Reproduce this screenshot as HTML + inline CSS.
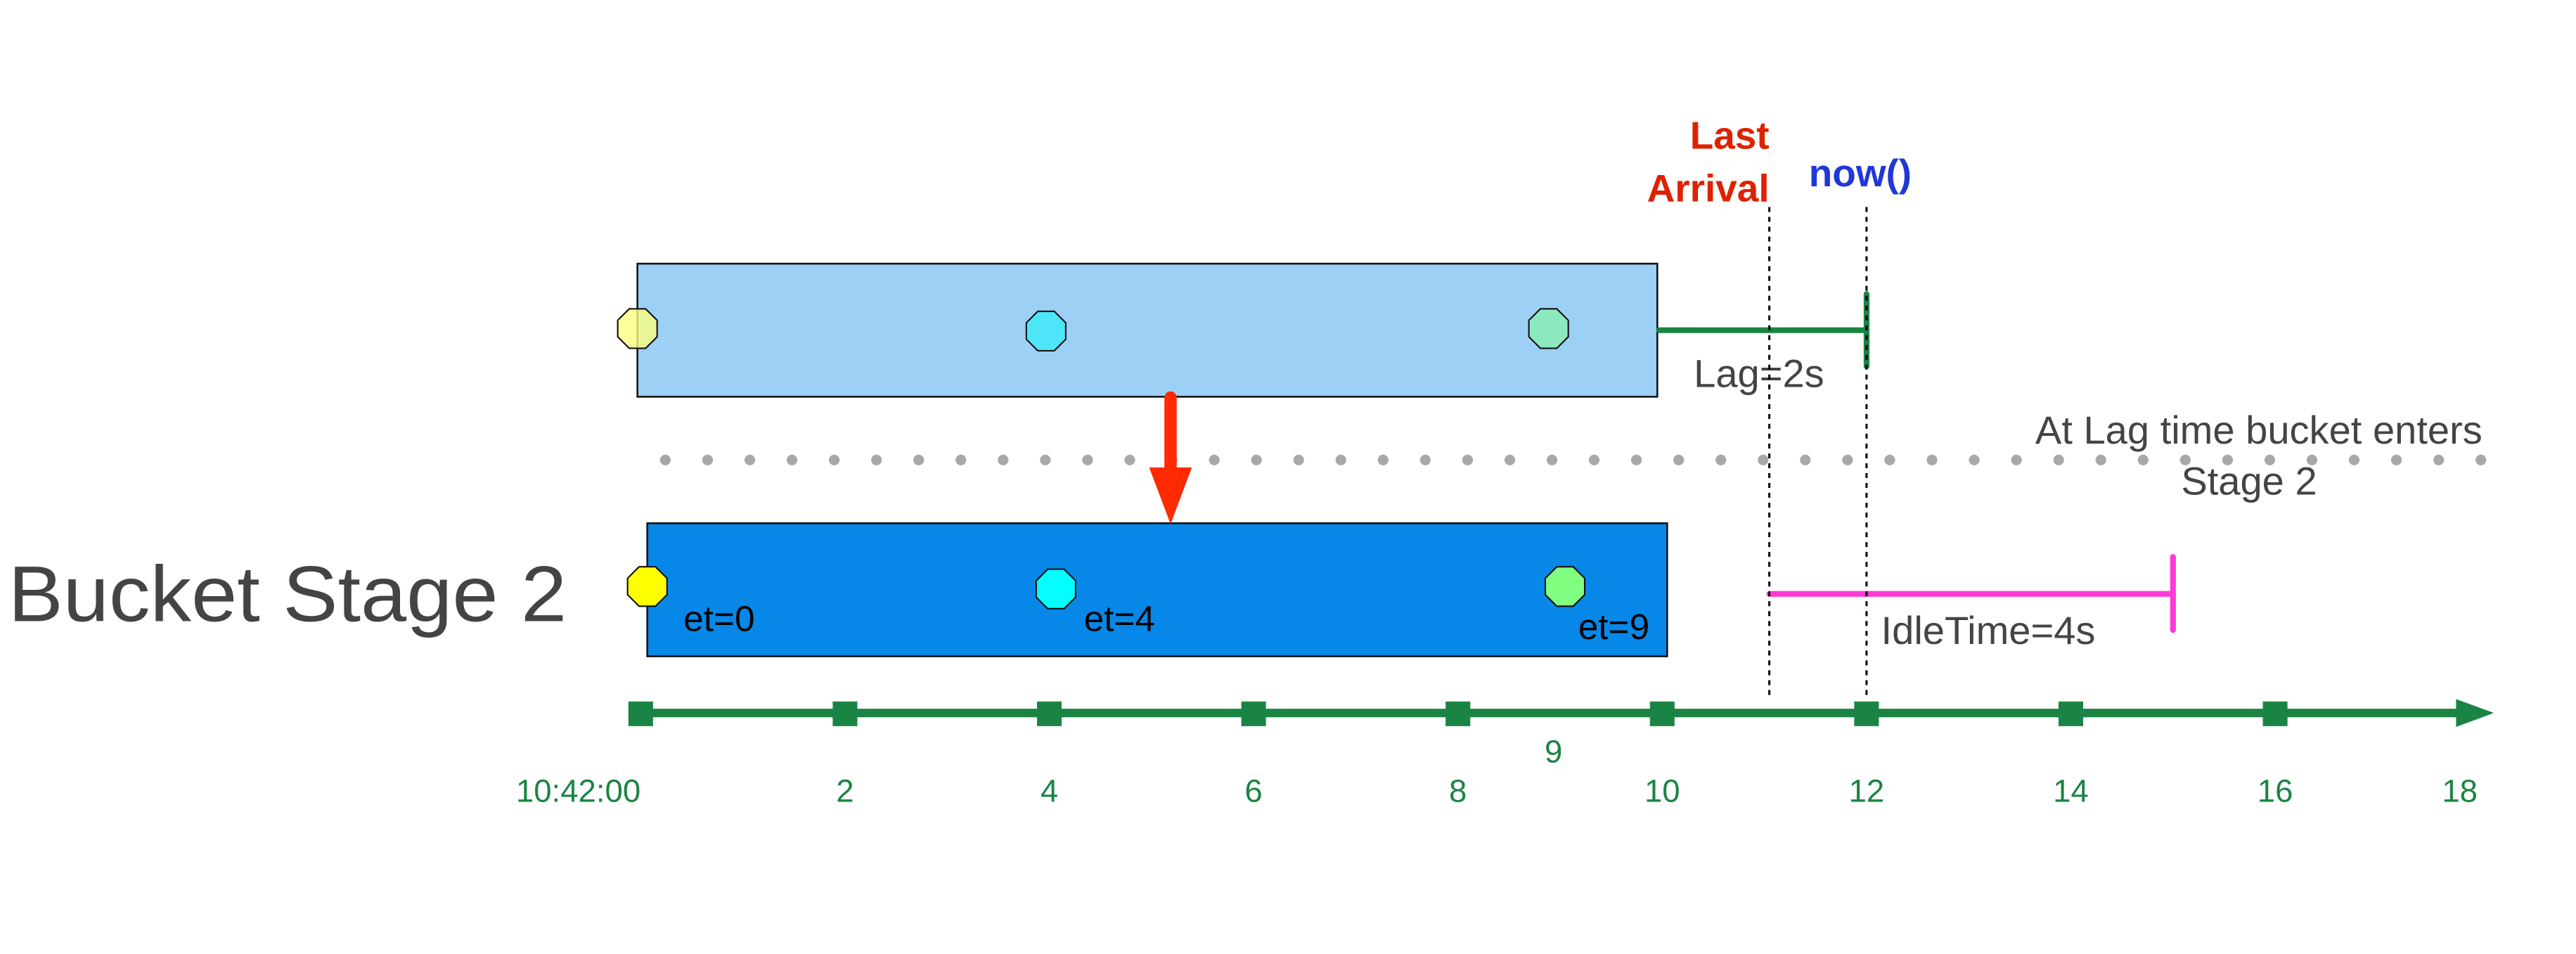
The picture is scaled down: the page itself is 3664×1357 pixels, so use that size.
<!DOCTYPE html>
<html><head><meta charset="utf-8"><style>
html,body{margin:0;padding:0;background:#fff;}
svg{display:block;}
text{font-family:"Liberation Sans",sans-serif;}
</style></head><body>
<svg id="chart" width="3664" height="1357" viewBox="0 0 1568 580.7" preserveAspectRatio="none" xmlns="http://www.w3.org/2000/svg">
<rect width="1568" height="580.7" fill="#fff"/>
<text x="5" y="378" font-size="48" textLength="340" lengthAdjust="spacingAndGlyphs" fill="#444">Bucket Stage 2</text>
</svg>
<script>
const tickValues = [0, 2, 4, 6, 8, 10, 12, 14, 16];
const tickLabels = ["10:42:00", "2", "4", "6", "8", "10", "12", "14", "16", "18"];
const labelValues = [0, 2, 4, 6, 8, 10, 12, 14, 16, 18];
const eventTimes = [0, 4, 9];
const eventLabels = ["et=0", "et=4", "et=9"];
const bucketStart = [0];
const bucketEnd = [10];
const lastArrival = [11];
const nowTime = [12];
const idleTime = [4];

const NS = "http://www.w3.org/2000/svg";
const svg = document.getElementById("chart");
const x = v => 390 + 62.18 * v;
function mk(tag, attrs, parent) {
  const e = document.createElementNS(NS, tag);
  for (const k in attrs) e.setAttribute(k, attrs[k]);
  (parent || svg).appendChild(e);
  return e;
}
function octagon(cx, cy, fill, opacity) {
  const w = 12, h = 12, c = 5;
  const pts = [[cx - c, cy - h], [cx + c, cy - h], [cx + w, cy - c], [cx + w, cy + c], [cx + c, cy + h], [cx - c, cy + h], [cx - w, cy + c], [cx - w, cy - c]];
  return mk("polygon", {points: pts.map(p => p.join(",")).join(" "), fill: fill, "fill-opacity": opacity, stroke: "#111", "stroke-width": 0.9});
}

let e = mk("rect", {x: x(bucketStart[0]) - 2, y: 160.5, width: x(bucketEnd[0]) - x(bucketStart[0]) - 1, height: 81, fill: "#9dd0f5", stroke: "#111", "stroke-width": 1.1});


const topColors = ["#fdff80", "#4fe5f8", "#8de8c0"];
eventTimes.forEach((t, i) => {
  const o = octagon(x(t) - 1 - (i === 2 ? 6 : 1), 200 + (i === 1 ? 1.5 : 0), topColors[i], i === 0 ? 0.8 : 1);
  
  
});

const lagY = 201;
e = mk("line", {x1: x(bucketEnd[0]) - 2, y1: lagY, x2: x(nowTime[0]), y2: lagY, stroke: "#1a8444", "stroke-width": 3.5, "stroke-linecap": "round"});


e = mk("line", {x1: x(nowTime[0]), y1: 179, x2: x(nowTime[0]), y2: 223, stroke: "#1a8444", "stroke-width": 3.5, "stroke-linecap": "round"});


e = mk("text", {x: 1031, y: 235.5, "font-size": 24, fill: "#444"});
e.textContent = "Lag=" + (nowTime[0] - bucketEnd[0]) + "s";



e = mk("line", {x1: 405, y1: 280, x2: 1512, y2: 280, stroke: "#a8a8a8", "stroke-width": 6.5, "stroke-linecap": "round", "stroke-dasharray": "0 25.7"});


e = mk("text", {x: 1511, y: 270, "font-size": 24, fill: "#444", "text-anchor": "end"});
e.textContent = "At Lag time bucket enters";


e = mk("text", {x: 1369, y: 301, "font-size": 24, fill: "#444", "text-anchor": "middle"});
e.textContent = "Stage 2";



e = mk("rect", {x: x(bucketStart[0]) + 4, y: 318.5, width: x(bucketEnd[0]) - x(bucketStart[0]) - 1, height: 81, fill: "#0788e8", stroke: "#111", "stroke-width": 1.1});


const botColors = ["#ffff00", "#00ffff", "#80ff80"];
eventTimes.forEach((t, i) => {
  const o = octagon(x(t) + 4 - (i === 2 ? 1 : 0), 357 + (i === 1 ? 1.5 : 0), botColors[i], 1);
  
  
  const tx = mk("text", {x: i === 2 ? x(t) + 11 : x(t) + 26 + (i === 1 ? -5 : 0), y: i === 2 ? 389 : 384, "font-size": 22, fill: "#000"});
  tx.textContent = eventLabels[i];
  
  
});

e = mk("line", {x1: 712.5, y1: 242, x2: 712.5, y2: 286, stroke: "#ff2a00", "stroke-width": 7.5, "stroke-linecap": "round"});


e = mk("polygon", {points: "699.5,284.5 725.5,284.5 712.5,319", fill: "#ff2a00"});



const idleY = 361.5;
e = mk("line", {x1: x(lastArrival[0]) + 3, y1: idleY, x2: x(lastArrival[0] + idleTime[0]), y2: idleY, stroke: "#ff3ad8", "stroke-width": 3.5, "stroke-linecap": "round"});


e = mk("line", {x1: x(lastArrival[0] + idleTime[0]), y1: 339, x2: x(lastArrival[0] + idleTime[0]), y2: 383.5, stroke: "#ff3ad8", "stroke-width": 3.5, "stroke-linecap": "round"});


e = mk("text", {x: 1145, y: 392, "font-size": 24, fill: "#444"});
e.textContent = "IdleTime=" + idleTime[0] + "s";



e = mk("line", {x1: x(lastArrival[0]) + 3, y1: 126, x2: x(lastArrival[0]) + 3, y2: 426, stroke: "#000", "stroke-width": 1.3, "stroke-dasharray": "3 3"});


e = mk("line", {x1: x(nowTime[0]), y1: 126, x2: x(nowTime[0]), y2: 426, stroke: "#000", "stroke-width": 1.3, "stroke-dasharray": "3 3"});


e = mk("text", {x: x(lastArrival[0]) + 3, y: 90.5, "font-size": 23.5, "font-weight": "bold", fill: "#dd2200", "text-anchor": "end"});
e.textContent = "Last";


e = mk("text", {x: x(lastArrival[0]) + 3, y: 122.5, "font-size": 23.5, "font-weight": "bold", fill: "#dd2200", "text-anchor": "end"});
e.textContent = "Arrival";


e = mk("text", {x: 1101, y: 113.5, "font-size": 23.5, "font-weight": "bold", fill: "#2038d8"});
e.textContent = "now()";



e = mk("line", {x1: x(0), y1: 434, x2: 1500, y2: 434, stroke: "#1a8444", "stroke-width": 5.2});


e = mk("polygon", {points: "1495,425.5 1518,434 1495,442.5", fill: "#1a8444"});


tickValues.forEach(v => {
  const t = mk("rect", {x: x(v) - 7.5, y: 427, width: 15, height: 15, fill: "#1a8444"});
  
  
});
labelValues.forEach((v, i) => {
  const t = mk("text", {x: x(v) + (i === 0 ? -38 : (i === 9 ? -12 : 0)), y: 488, "font-size": 19.5, fill: "#1a8444", "text-anchor": "middle"});
  t.textContent = tickLabels[i];
  
  
});
e = mk("text", {x: x(eventTimes[2]) - 4, y: 464, "font-size": 19.5, fill: "#1a8444", "text-anchor": "middle"});
e.textContent = String(eventTimes[2]);


</script>
</body></html>
